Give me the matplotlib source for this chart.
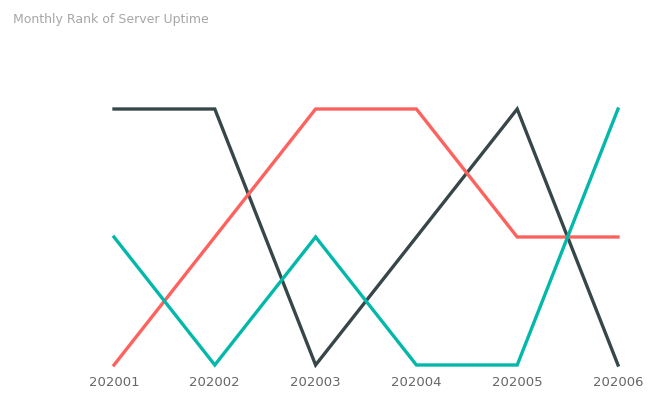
import matplotlib.pyplot as plt

# Data
months = ['202001', '202002', '202003', '202004', '202005', '202006']
rank_dark = [1, 1, 3, 2, 1, 3]
rank_red = [3, 2, 1, 1, 2, 2]
rank_teal = [2, 3, 2, 3, 3, 1]

fig = plt.figure(figsize=(6.6, 4.04), dpi=100)
ax = fig.add_axes([114 / 660, 1 - 365 / 404, (618 - 114) / 660, (365 - 109) / 404])

x = range(len(months))
ax.plot(x, rank_dark, color='#374649', linewidth=2.4, clip_on=False, solid_joinstyle='miter')
ax.plot(x, rank_red, color='#FD625E', linewidth=2.4, clip_on=False, solid_joinstyle='miter')
ax.plot(x, rank_teal, color='#01B8AA', linewidth=2.4, clip_on=False, solid_joinstyle='miter')

ax.set_xlim(0, len(months) - 1)
ax.set_ylim(3, 1)
ax.set_xticks(list(x))
ax.set_xticklabels(months, fontsize=9.5, color='#666666')
ax.tick_params(axis='x', length=0, pad=8)
ax.set_yticks([])
for s in ax.spines.values():
    s.set_visible(False)

fig.text(13 / 660, 1 - 20 / 404, 'Monthly Rank of Server Uptime', fontsize=9,
         color='#a6a6a6', va='center', ha='left')

fig.savefig('out.png', dpi=100)
